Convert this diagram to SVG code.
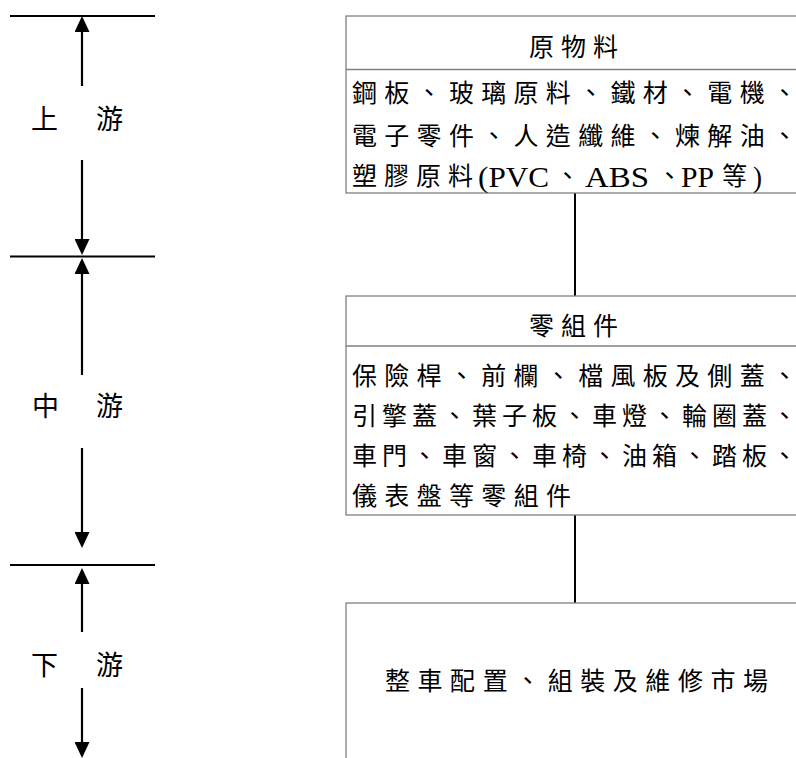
<svg xmlns="http://www.w3.org/2000/svg" width="796" height="758" viewBox="0 0 796 758">
<defs>
<style>
.box{fill:#fff;stroke:#808080;stroke-width:1.3}
.div{stroke:#808080;stroke-width:1.3}
.conn{stroke:#000;stroke-width:2;fill:none}
.tier{stroke:#000;stroke-width:2.2}
.arr{stroke:#000;stroke-width:2.2;fill:none;marker-end:url(#ah)}
.t{font-family:"Liberation Serif","Noto Sans CJK TC",serif;font-size:25px;fill:#000}
.lat{font-family:"Liberation Serif",serif;font-size:30px;fill:#000}
.lbl{font-family:"Liberation Serif","Noto Sans CJK TC",serif;font-size:27px;fill:#000}
</style>
<marker id="ah" markerUnits="userSpaceOnUse" markerWidth="16" markerHeight="15" viewBox="0 0 16 15" refX="4" refY="7.5" orient="auto">
<path d="M0,0 L16,7.5 L0,15 Z" fill="#000"/>
</marker>
</defs>
<g id="tiers">
<line class="tier" x1="10" y1="16" x2="155" y2="16"/>
<line class="tier" x1="10" y1="256.5" x2="155" y2="256.5"/>
<line class="tier" x1="10" y1="565" x2="155" y2="565"/>
</g>
<g id="upstream">
<line class="arr" x1="82" y1="86" x2="82" y2="28"/>
<line class="arr" x1="82" y1="160" x2="82" y2="243"/>
<text class="lbl" x="31 63 96" y="128.5">上　游</text>
</g>
<g id="midstream">
<line class="arr" x1="82" y1="375" x2="82" y2="270"/>
<line class="arr" x1="82" y1="448" x2="82" y2="536"/>
<text class="lbl" x="32 63 96" y="416">中　游</text>
</g>
<g id="downstream">
<line class="arr" x1="82" y1="632" x2="82" y2="580"/>
<line class="arr" x1="82" y1="688" x2="82" y2="746"/>
<text class="lbl" x="31 63 96" y="675">下　游</text>
</g>
<g id="connectors">
<line class="conn" x1="575" y1="193" x2="575" y2="296"/>
<line class="conn" x1="575" y1="515" x2="575" y2="603"/>
</g>
<g id="raw-materials">
<rect class="box" x="346" y="16" width="460" height="177"/>
<line class="div" x1="346" y1="69.5" x2="800" y2="69.5"/>
<text class="t" x="529" y="56" textLength="89" lengthAdjust="spacing">原物料</text>
<text class="t" x="352" y="102" textLength="445" lengthAdjust="spacing">鋼板、玻璃原料、鐵材、電機、</text>
<text class="t" x="352" y="144.5" textLength="445" lengthAdjust="spacing">電子零件、人造纖維、煉解油、</text>
<text class="t" x="352 384 416 448" y="184.5">塑膠原料</text>
<text class="lat" x="478" y="186.5" textLength="71" lengthAdjust="spacingAndGlyphs">(PVC</text>
<text class="t" x="555" y="184.5">、</text>
<text class="lat" x="585" y="186.5" textLength="64" lengthAdjust="spacingAndGlyphs">ABS</text>
<text class="t" x="657" y="184.5">、</text>
<text class="lat" x="681" y="186.5" textLength="33" lengthAdjust="spacingAndGlyphs">PP</text>
<text class="t" x="722" y="184.5">等</text>
<text class="lat" x="753" y="186.5" textLength="9" lengthAdjust="spacingAndGlyphs">)</text>
</g>
<g id="components">
<rect class="box" x="346" y="296" width="460" height="219"/>
<line class="div" x1="346" y1="346" x2="800" y2="346"/>
<text class="t" x="529" y="334.5" textLength="89" lengthAdjust="spacing">零組件</text>
<text class="t" x="352" y="384.5" textLength="445" lengthAdjust="spacing">保險桿、前欄、檔風板及側蓋、</text>
<text class="t" x="352" y="424.5" textLength="445" lengthAdjust="spacing">引擎蓋、葉子板、車燈、輪圈蓋、</text>
<text class="t" x="352" y="464.5" textLength="445" lengthAdjust="spacing">車門、車窗、車椅、油箱、踏板、</text>
<text class="t" x="352" y="504.5" textLength="219" lengthAdjust="spacing">儀表盤等零組件</text>
</g>
<g id="market">
<rect class="box" x="346" y="603" width="460" height="170"/>
<text class="t" x="385" y="689.5" textLength="383" lengthAdjust="spacing">整車配置、組裝及維修市場</text>
</g>
</svg>
